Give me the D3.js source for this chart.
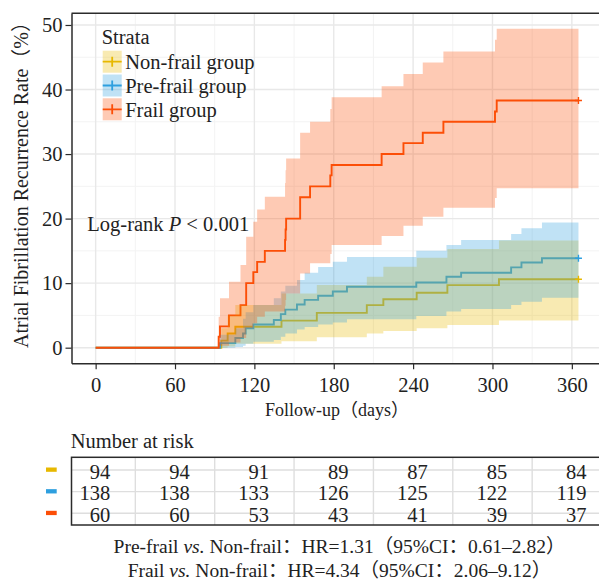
<!DOCTYPE html>
<html>
<head>
<meta charset="utf-8">
<script src="https://cdn.jsdelivr.net/npm/d3@7"></script>
<style>
  body { margin: 0; background: #fff; }
  svg { display: block; font-family: "Liberation Serif", "Noto Sans CJK SC", serif; }
</style>
</head>
<body>
<svg id="chart" width="599" height="580"></svg>
<script>
// Kaplan-Meier style cumulative recurrence curves
const groups = ["Non-frail group", "Pre-frail group", "Frail group"];
const groupColors = ["#E7B800", "#2E9FDF", "#FC4E07"];

// Non-frail group: event times (days), estimate and 95% CI (%)
const nonfrailTime  = [0, 95.0, 99.8, 105.6, 140.5, 167.2, 205.0, 217.5, 242.7, 265.9, 304.9, 365];
const nonfrailEst   = [0, 1.1, 2.2, 3.25, 4.2, 5.4, 6.6, 7.5, 8.5, 9.7, 10.6, 10.6];
const nonfrailLower = [0, 0, 0.2, 0.6, 1.0, 1.6, 2.2, 2.6, 3.0, 3.5, 4.2, 4.2];
const nonfrailUpper = [0, 3.0, 5.0, 6.6, 8.4, 9.7, 11.0, 12.55, 13.95, 15.3, 16.6, 16.6];

// Pre-frail group
const prefrailTime  = [0, 94.0, 105.6, 111.4, 113.4, 119.2, 134.7, 140.0, 143.4, 152.2, 158.0, 168.2, 179.3, 190.0, 242.4, 265.2, 276.3, 314.1, 321.9, 337.4, 365];
const prefrailEst   = [0, 0.7, 1.5, 2.2, 3.0, 3.6, 4.3, 5.2, 5.9, 6.7, 7.4, 8.05, 8.7, 9.45, 10.1, 11.0, 11.6, 12.45, 13.2, 13.85, 13.85];
const prefrailLower = [0, 0, 0.1, 0.3, 0.6, 0.9, 1.2, 1.7, 2.2, 2.8, 3.2, 3.6, 3.9, 4.4, 4.9, 5.6, 6.0, 6.6, 7.1, 7.75, 7.75];
const prefrailUpper = [0, 2.0, 3.0, 4.5, 5.5, 6.6, 7.65, 8.7, 9.6, 10.5, 11.6, 12.5, 13.3, 14.05, 15.0, 15.9, 16.7, 17.6, 18.5, 19.4, 19.4];

// Frail group
const frailTime  = [0, 93.0, 94.0, 100.8, 109.5, 113.8, 119.2, 122.1, 127.9, 143.2, 143.6, 144.0, 154.6, 162.1, 177.4, 178.4, 216.2, 232.7, 247.3, 262.9, 301.9, 303.2, 365];
const frailEst   = [0, 1.7, 3.3, 5.0, 6.6, 10.0, 11.7, 13.3, 15.0, 16.7, 18.3, 20.0, 23.3, 25.0, 26.7, 28.3, 30.0, 31.7, 33.3, 35.0, 36.6, 38.3, 38.3];
const frailLower = [0, 0, 0.3, 0.8, 1.5, 3.0, 3.8, 4.8, 5.6, 6.5, 7.4, 8.4, 11.5, 13.1, 14.5, 15.9, 17.3, 18.9, 20.3, 21.7, 23.2, 24.7, 24.7];
const frailUpper = [0, 4.8, 7.65, 10.2, 12.8, 17.2, 19.5, 21.4, 23.4, 25.5, 27.5, 29.3, 33.3, 35.0, 37.0, 38.8, 40.5, 42.4, 44.2, 45.9, 47.7, 49.4, 49.4];

// axes
const xTicks = [0, 60, 120, 180, 240, 300, 360];
const xMinor = [30, 90, 150, 210, 270, 330];
const yTicks = [0, 10, 20, 30, 40, 50];
const yMinor = [5, 15, 25, 35, 45];

// number at risk table
const riskTimes = [0, 60, 120, 180, 240, 300, 360];
const riskNonfrail = [94, 94, 91, 89, 87, 85, 84];
const riskPrefrail = [138, 138, 133, 126, 125, 122, 119];
const riskFrail = [60, 60, 53, 43, 41, 39, 37];

const hrLines = [
  [["Pre-frail ", false], ["vs.", true], [" Non-frail：HR=1.31（95%CI：0.61–2.82）", false]],
  [["Frail ", false], ["vs.", true], [" Non-frail：HR=4.34（95%CI：2.06–9.12）", false]]
];

const times = [nonfrailTime, prefrailTime, frailTime];
const ests = [nonfrailEst, prefrailEst, frailEst];
const lowers = [nonfrailLower, prefrailLower, frailLower];
const uppers = [nonfrailUpper, prefrailUpper, frailUpper];
const risks = [riskNonfrail, riskPrefrail, riskFrail];

const series = groups.map((g, i) => ({
  name: g,
  color: groupColors[i],
  pts: times[i].map((t, j) => ({t: t, est: ests[i][j], lo: lowers[i][j], hi: uppers[i][j]}))
}));

const svg = d3.select("#chart");
const panel = {left: 71.5, right: 602.6, top: 13.3, bottom: 363.3};

// the panel runs a little past the right edge of the picture, as in the original
const x = d3.scaleLinear().domain([-18.25, 383.25]).range([panel.left, panel.right]);
const y = d3.scaleLinear().domain([-2.42, 51.81]).range([panel.bottom, panel.top]);

svg.append("clipPath").attr("id", "clip")
  .append("rect")
  .attr("x", panel.left).attr("y", panel.top)
  .attr("width", panel.right - panel.left).attr("height", panel.bottom - panel.top);

// grid
const grid = svg.append("g");
grid.selectAll(".xmin").data(xMinor).enter().append("line")
  .attr("x1", d => x(d)).attr("x2", d => x(d))
  .attr("y1", panel.top).attr("y2", panel.bottom)
  .attr("stroke", "#f3f3f3").attr("stroke-width", 1);
grid.selectAll(".ymin").data(yMinor).enter().append("line")
  .attr("y1", d => y(d)).attr("y2", d => y(d))
  .attr("x1", panel.left).attr("x2", panel.right)
  .attr("stroke", "#f3f3f3").attr("stroke-width", 1);
grid.selectAll(".xmaj").data(xTicks).enter().append("line")
  .attr("x1", d => x(d)).attr("x2", d => x(d))
  .attr("y1", panel.top).attr("y2", panel.bottom)
  .attr("stroke", "#e8e8e8").attr("stroke-width", 1.4);
grid.selectAll(".ymaj").data(yTicks).enter().append("line")
  .attr("y1", d => y(d)).attr("y2", d => y(d))
  .attr("x1", panel.left).attr("x2", panel.right)
  .attr("stroke", "#e8e8e8").attr("stroke-width", 1.4);

const plot = svg.append("g").attr("clip-path", "url(#clip)");

const line = d3.line()
  .x(d => x(d.t)).y(d => y(d.est))
  .curve(d3.curveStepAfter);

const area = d3.area()
  .x(d => x(d.t)).y0(d => y(d.lo)).y1(d => y(d.hi))
  .curve(d3.curveStepAfter);

// step lines first, then the confidence bands on top of them
plot.selectAll(".km").data(series).enter().append("path")
  .attr("d", d => line(d.pts))
  .attr("fill", "none")
  .attr("stroke", d => d.color)
  .attr("stroke-width", 1.9);

plot.selectAll(".ci").data(series).enter().append("path")
  .attr("d", d => area(d.pts))
  .attr("fill", d => d.color)
  .attr("fill-opacity", 0.3)
  .attr("stroke", "none");

// censor marks at the end of follow-up
series.forEach(s => {
  const last = s.pts[s.pts.length - 1];
  const cx = x(last.t), cy = y(last.est);
  svg.append("path")
    .attr("d", `M${cx - 3.5},${cy}H${cx + 3.5}M${cx},${cy - 3.5}V${cy + 3.5}`)
    .attr("stroke", s.color).attr("stroke-width", 1.4);
});

// axes
const xAxis = svg.append("g")
  .attr("transform", `translate(0,${panel.bottom})`)
  .call(d3.axisBottom(x).tickValues(xTicks).tickSize(6).tickSizeOuter(0).tickPadding(8));
const yAxis = svg.append("g")
  .attr("transform", `translate(${panel.left},0)`)
  .call(d3.axisLeft(y).tickValues(yTicks).tickSize(6).tickSizeOuter(0).tickPadding(3));

[xAxis, yAxis].forEach(a => {
  a.select(".domain").attr("stroke", "#2b2b2b").attr("stroke-width", 1.5);
  a.selectAll(".tick line").attr("stroke", "#2b2b2b").attr("stroke-width", 1.2);
  a.selectAll(".tick text")
    .attr("font-family", "Liberation Serif, serif")
    .attr("font-size", 20.5)
    .attr("fill", "#222");
});

// top border of the panel
svg.append("line")
  .attr("x1", panel.left).attr("x2", panel.right)
  .attr("y1", panel.top).attr("y2", panel.top)
  .attr("stroke", "#2b2b2b").attr("stroke-width", 1.5);

// axis titles
svg.append("text")
  .attr("x", (panel.left + panel.right) / 2).attr("y", 416)
  .attr("text-anchor", "middle")
  .attr("font-size", 18).attr("fill", "#222")
  .text("Follow-up（days）");

svg.append("text")
  .attr("transform", "rotate(-90)")
  .attr("x", -180).attr("y", 28)
  .attr("text-anchor", "middle")
  .attr("font-size", 20).attr("fill", "#222")
  .text("Atrial Fibrillation Recurrence Rate（%）");

// legend
const legend = svg.append("g").attr("transform", "translate(102.7,50.7)");
legend.append("text")
  .attr("x", -1).attr("y", -7)
  .attr("font-size", 20.5).attr("fill", "#222")
  .text("Strata");
const legRow = legend.selectAll(".leg").data(series).enter().append("g")
  .attr("transform", (d, i) => `translate(0,${i * 23.8})`);
legRow.append("rect")
  .attr("width", 19).attr("height", 22)
  .attr("fill", d => d.color).attr("fill-opacity", 0.3);
legRow.append("path")
  .attr("d", "M0,11H19M9.5,6V16")
  .attr("stroke", d => d.color).attr("stroke-width", 1.8);
legRow.append("text")
  .attr("x", 22.5).attr("y", 18.5)
  .attr("font-size", 20.5).attr("fill", "#222")
  .text(d => d.name);

// log-rank annotation
const lr = svg.append("text")
  .attr("x", 87.3).attr("y", 230.7)
  .attr("font-size", 20.5).attr("fill", "#222");
lr.append("tspan").text("Log-rank ");
lr.append("tspan").attr("font-style", "italic").text("P");
lr.append("tspan").text(" < 0.001");

// number at risk table
const table = {top: 457.3, bottom: 525};
const rowY = d3.scalePoint().domain(groups).range([470, 513.3]);

svg.append("text")
  .attr("x", 70.7).attr("y", 448.3)
  .attr("font-size", 20.5).attr("fill", "#222")
  .text("Number at risk");

const tg = svg.append("g");
tg.selectAll(".tgx").data(xMinor).enter().append("line")
  .attr("x1", d => x(d)).attr("x2", d => x(d))
  .attr("y1", table.top).attr("y2", table.bottom)
  .attr("stroke", "#dedede").attr("stroke-width", 1.4);
tg.selectAll(".tgy").data(groups).enter().append("line")
  .attr("x1", panel.left).attr("x2", panel.right)
  .attr("y1", d => rowY(d)).attr("y2", d => rowY(d))
  .attr("stroke", "#dedede").attr("stroke-width", 1.4);

groups.forEach((g, i) => {
  tg.selectAll(".rk" + i).data(riskTimes).enter().append("text")
    .attr("x", d => x(d) + 14.7)
    .attr("y", rowY(g) + 8.7)
    .attr("text-anchor", "end")
    .attr("font-size", 20.5).attr("fill", "#222")
    .text((d, j) => risks[i][j]);
  tg.append("rect")
    .attr("x", 46).attr("y", rowY(g) - 2.5)
    .attr("width", 10.7).attr("height", 4.3)
    .attr("fill", groupColors[i]);
});

tg.append("rect")
  .attr("x", panel.left).attr("y", table.top)
  .attr("width", panel.right - panel.left).attr("height", table.bottom - table.top)
  .attr("fill", "none").attr("stroke", "#2b2b2b").attr("stroke-width", 1.5);

// hazard ratio notes
hrLines.forEach((parts, i) => {
  const t = svg.append("text")
    .attr("x", 339.5).attr("y", 553.3 + i * 23.4)
    .attr("text-anchor", "middle")
    .attr("font-size", 19.5).attr("fill", "#222");
  parts.forEach(p => {
    t.append("tspan").attr("font-style", p[1] ? "italic" : null).text(p[0]);
  });
});
</script>
</body>
</html>
